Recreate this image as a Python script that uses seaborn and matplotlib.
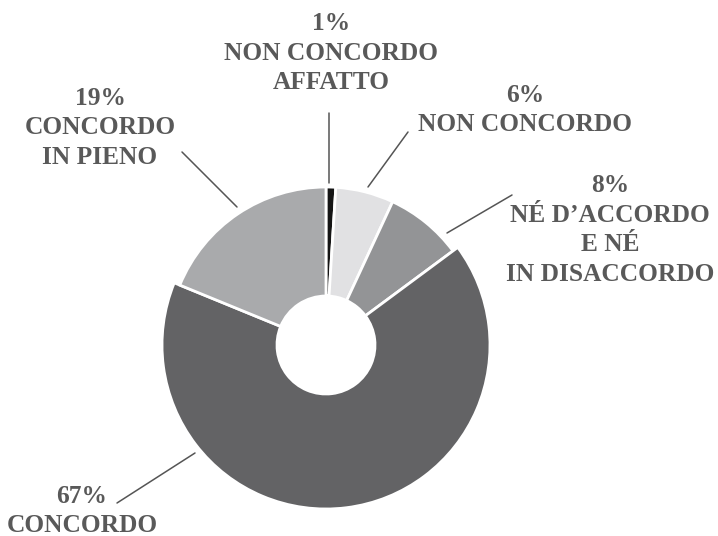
import matplotlib
matplotlib.use("Agg")
import matplotlib.pyplot as plt
import seaborn as sns

# Dati
categorie = ["NON CONCORDO\nAFFATTO", "NON CONCORDO", "NÉ D’ACCORDO\nE NÉ\nIN DISACCORDO",
             "CONCORDO", "CONCORDO\nIN PIENO"]
percentuali = [1, 6, 8, 67, 19]
colori = ["#151515", "#e1e1e3", "#939496", "#636365", "#a9aaac"]

# Layout (coordinate in pixel, origine in alto a sinistra)
W, H = 718, 536
cx, cy = 326, 345
r_out, r_in, r_big = 158, 49, 164
pos_etichette = [(331, 53), (525, 110), (610, 230), (82, 511), (100, 128)]
linee_guida = [((329, 113), (329, 183)), ((408, 132), (368, 187)),
               ((512, 195), (447, 233)), ((117, 503), (195, 453)),
               ((182, 152), (237, 207))]

sns.set_theme(style="white")
plt.rcParams["font.family"] = ["Liberation Serif", "DejaVu Serif"]

fig = plt.figure(figsize=(W / 100, H / 100), dpi=100)
ax = fig.add_axes([0, 0, 1, 1])

wedges, _ = ax.pie(percentuali, colors=colori, startangle=90, counterclock=False,
                   radius=r_out, center=(cx, H - cy),
                   wedgeprops=dict(width=r_out - r_in, edgecolor="white", linewidth=2))
# la fetta principale sporge leggermente
wedges[3].set_radius(r_big)
wedges[3].set_width(r_big - r_in)

for cat, p, (tx, ty), ((x1, y1), (x2, y2)) in zip(categorie, percentuali,
                                                   pos_etichette, linee_guida):
    ax.text(tx, H - ty, f"{p}%\n{cat}", ha="center", va="center", fontsize=18.3,
            fontweight="bold", color="#595959", linespacing=1.36)
    ax.plot([x1, x2], [H - y1, H - y2], color="#555555", lw=1.1)

ax.set_xlim(0, W)
ax.set_ylim(0, H)
ax.set_aspect("equal")
ax.axis("off")

fig.savefig("out.png", dpi=100)
